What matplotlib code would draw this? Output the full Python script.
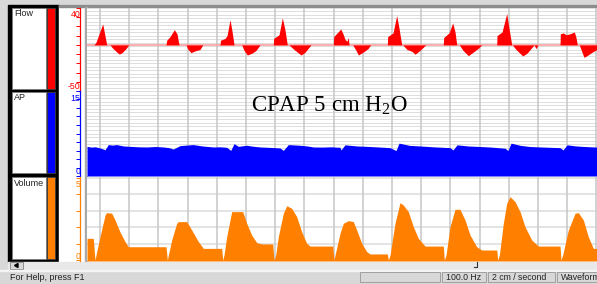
import numpy as np
import matplotlib.pyplot as plt
from matplotlib.patches import Rectangle, Polygon

plt.rcParams['font.family'] = ['Liberation Sans', 'DejaVu Sans']
plt.rcParams['mathtext.fontset'] = 'custom'
plt.rcParams['mathtext.rm'] = 'Liberation Serif'

# time in seconds, 100 Hz recording, 2 cm / second
flow_t = [-0.223, -0.103, -0.068, 0.046, 0.115, 0.171, 0.223, 0.291, 0.330, 0.377, 0.445, 0.491,
          1.130, 1.142, 1.199, 1.272, 1.318, 1.353, 1.473, 1.507, 1.558, 1.627, 1.712, 1.759,
          2.055, 2.063, 2.140, 2.175, 2.226, 2.260, 2.295, 2.426, 2.466, 2.522, 2.603, 2.671, 2.740,
          2.967, 2.974, 3.065, 3.122, 3.168, 3.207, 3.236, 3.322, 3.442, 3.510, 3.613,
          3.995, 4.002, 4.075, 4.122, 4.161, 4.195, 4.229, 4.252, 4.264, 4.327, 4.384, 4.423, 4.503, 4.589, 4.635,
          4.920, 4.926, 5.017, 5.080, 5.120, 5.166, 5.183, 5.257, 5.342, 5.394, 5.479, 5.577,
          5.878, 5.885, 5.976, 6.039, 6.079, 6.108, 6.152, 6.216, 6.307, 6.387, 6.473, 6.536,
          6.793, 6.798, 6.884, 6.964, 7.003, 7.050, 7.060, 7.123, 7.238, 7.312, 7.432, 7.466, 7.500,
          7.877, 7.882, 7.933, 7.979, 8.048, 8.122, 8.151, 8.173, 8.207, 8.253, 8.288, 8.356, 8.425, 8.510]
flow_v = [0, 0, 3, 22.7, 0, 0, -4, -8, -9.9, -8.5, -4, 0,
          0, 5, 9, 16.5, 12, 0, 0, -5, -8.4, -6.5, -5, 0,
          0, 5, 7, 10, 27.4, 15, 0, 0, -6, -11, -9, -6, 0,
          0, 7, 11, 29.3, 16, 0, 0, -5, -11, -8, 0,
          0, 9, 14, 17.2, 12, 6, 4, 8, 0, 0, -6, -11, -8, -4, 0,
          0, 9, 13, 31.8, 18, 0, 0, -5, -7, -10.2, -6, 0,
          0, 8, 13, 23.8, 14, 0, 0, -6, -11.7, -8, -4, 0,
          0, 10, 14, 34, 18, 0, 0, -5, -12, -9, 0, -4, 0,
          0, 12, 13, 11, 12, 14, 8, 0, 0, -8, -13.5, -11, -8, -5]

ap_t = [-0.223, -0.15, -0.08, 0.0, 0.086, 0.142, 0.21, 0.286, 0.40, 0.514, 0.65, 0.800, 0.95, 1.084,
        1.18, 1.255, 1.370, 1.48, 1.598, 1.75, 1.940, 2.05, 2.170, 2.238, 2.295, 2.368, 2.512, 2.62,
        2.740, 2.90, 3.082, 3.139, 3.224, 3.425, 3.55, 3.652, 3.80, 3.95, 4.110, 4.127, 4.195, 4.40,
        4.623, 4.80, 4.966, 5.068, 5.120, 5.30, 5.479, 5.70, 5.993, 6.045, 6.113, 6.30, 6.507, 6.70,
        6.935, 6.986, 7.038, 7.20, 7.363, 7.60, 7.877, 7.928, 7.997, 8.15, 8.305, 8.510]
ap_v = [5.23, 5.10, 5.15, 4.95, 4.64, 5.54, 5.45, 5.54, 5.30, 5.23, 5.15, 5.12, 5.20, 5.12,
        5.00, 4.76, 5.36, 5.45, 5.54, 5.30, 5.12, 5.15, 5.06, 4.52, 5.71, 5.23, 5.42, 5.25,
        5.12, 5.05, 4.95, 4.52, 5.54, 5.42, 5.30, 5.12, 5.10, 5.15, 5.06, 4.60, 5.50, 5.30,
        5.20, 5.10, 5.00, 4.50, 5.80, 5.40, 5.30, 5.15, 5.00, 4.60, 5.50, 5.30, 5.20, 5.10,
        4.90, 4.50, 5.80, 5.40, 5.20, 5.10, 5.00, 4.60, 5.50, 5.30, 5.20, 5.10]

vol_t = [-0.223, -0.115, -0.086,
         -0.057, 0.0, 0.086, 0.115, 0.200, 0.257, 0.342, 0.428, 0.485, 1.130, 1.153,
         1.170, 1.227, 1.313, 1.341, 1.484, 1.570, 1.684, 1.769, 2.083, 2.101,
         2.123, 2.169, 2.255, 2.443, 2.511, 2.597, 2.683, 2.769, 2.957, 2.979,
         3.008, 3.053, 3.139, 3.197, 3.282, 3.368, 3.454, 3.539, 3.596, 3.985, 4.007,
         4.024, 4.110, 4.166, 4.252, 4.338, 4.395, 4.481, 4.567, 4.623, 4.920, 4.937,
         4.966, 5.051, 5.137, 5.193, 5.279, 5.365, 5.451, 5.565, 5.878, 5.896,
         5.925, 5.993, 6.079, 6.164, 6.250, 6.336, 6.450, 6.536, 6.793, 6.810,
         6.838, 6.906, 6.964, 7.021, 7.106, 7.192, 7.277, 7.392, 7.505, 7.877, 7.894,
         7.922, 8.019, 8.134, 8.190, 8.276, 8.361, 8.447, 8.510]
vol_v = [1.32, 1.32, 0,
         0.51, 1.42, 2.74, 2.89, 2.85, 2.44, 1.71, 1.12, 0.81, 0.81, 0,
         0.30, 1.22, 2.24, 2.34, 2.34, 1.83, 1.12, 0.71, 0.71, 0,
         0.30, 1.42, 2.95, 2.95, 2.24, 1.52, 1.06, 0.98, 0.98, 0,
         0.30, 1.42, 2.85, 3.31, 3.15, 2.64, 1.71, 1.02, 0.85, 0.85, 0,
         0.30, 1.63, 2.24, 2.40, 2.34, 1.83, 1.02, 0.51, 0.37, 0.37, 0,
         0.30, 2.24, 3.50, 3.35, 2.95, 2.03, 1.32, 0.85, 0.85, 0,
         0.30, 2.03, 3.09, 3.09, 2.44, 1.52, 0.81, 0.61, 0.61, 0,
         0.30, 2.24, 3.46, 3.86, 3.56, 2.95, 2.03, 1.22, 0.85, 0.85, 0,
         0.30, 1.83, 2.85, 2.89, 2.44, 1.42, 0.71, 0.71]

W, H = 597, 284
fig = plt.figure(figsize=(W / 100, H / 100), dpi=100, facecolor='#d8d8d8')


def px_axes(x0, y0, x1, y1):
    return fig.add_axes([x0 / W, 1 - y1 / H, (x1 - x0) / W, (y1 - y0) / H])


# window chrome (drawn in pixel space)
bg = fig.add_axes([0, 0, 1, 1])
bg.set_xlim(0, W)
bg.set_ylim(H, 0)
bg.axis('off')
bg.add_patch(Rectangle((8, 5), 51, 257, color='black'))
bg.add_patch(Rectangle((59, 5), 538, 257, color='white'))
bg.add_patch(Rectangle((59, 5), 538, 2, color='#8c8c8c'))
bg.add_patch(Rectangle((85, 7), 2, 255, color='#a8a8a8'))
panels = [('Flow', 8, 89, '#ff0000'), ('AP', 92, 173, '#0000ff'), ('Volume', 177, 259, '#ff8000')]
for name, y0, y1, col in panels:
    bg.add_patch(Rectangle((12, y0), 34, y1 - y0, fc='white', ec='#7a7a7a', lw=0.6))
    bg.add_patch(Rectangle((47, y0), 8, y1 - y0, fc=col, ec='#404040', lw=0.6))
    bg.text(14, y0 + 1.5, name, fontsize=6.5, va='top', ha='left', color='#222222')
# scroll bar
bg.add_patch(Rectangle((8, 262), 589, 8, color='#e8e8e8'))
bg.add_patch(Rectangle((10, 262), 13, 7, fc='#d8d8d8', ec='#808080', lw=0.6))
bg.add_patch(Polygon([[14.5, 265.5], [18, 263.5], [18, 267.5]], color='black'))
bg.plot([477, 477, 474], [262, 266.5, 266.5], color='#333333', lw=0.8)
bg.add_patch(Rectangle((0, 270), W, 0.8, color='#f4f4f4'))
# status bar
bg.text(10, 277.5, 'For Help, press F1', fontsize=6.5, va='center', color='#222222')
boxes = [(360, 440, ''), (442, 486, '100.0 Hz'), (488, 555, '2 cm / second'), (557, 600, 'Waveform')]
for x0, x1, txt in boxes:
    bg.add_patch(Rectangle((x0, 272), x1 - x0, 10, fill=False, ec='#a0a0a0', lw=0.7))
    bg.text(x0 + 4, 277.5, txt, fontsize=6.3, va='center', color='#222222', clip_on=True)

vgrid = np.arange(0, 8.6, 0.5)


def setup(ax, col, ylim, ticks, top_lbl, bot_lbl, top_pos, hgrid, hcol, hlw):
    ax.set_facecolor('white')
    ax.set_xlim(-0.223, 8.51)
    ax.set_ylim(*ylim)
    for s in ['top', 'right', 'bottom']:
        ax.spines[s].set_visible(False)
    ax.spines['left'].set_position(('outward', 5))
    ax.spines['left'].set_color(col)
    ax.spines['left'].set_linewidth(0.9)
    ax.set_yticks(ticks)
    ax.tick_params(axis='y', direction='out', length=3, width=0.7, color=col, labelleft=False)
    ax.tick_params(axis='x', length=0, labelbottom=False)
    for yv in hgrid:
        ax.axhline(yv, color=hcol, lw=hlw, zorder=0)
    for xv in vgrid:
        ax.axvline(xv, color='#c6c6c6', lw=1.1, zorder=0.5)
    tr = ax.get_yaxis_transform()
    ax.text(-0.013, top_pos, top_lbl, transform=tr, ha='right', va='top', color=col, fontsize=6.3, clip_on=False)
    ax.text(-0.013, ylim[0], bot_lbl, transform=tr, ha='right', va='bottom', color=col, fontsize=6.3, clip_on=False)


ax_flow = px_axes(87, 8, 597, 91)
setup(ax_flow, '#ff0000', (-50, 40), np.arange(-50, 41, 10), '40', '-50', 38,
      np.linspace(-50, 40, 25), '#d8d8d8', 0.6)
ax_flow.axhline(0, color='#ffa0a0', lw=1.2, zorder=1)
ax_flow.fill_between(flow_t, flow_v, 0, color='#ff0000', lw=0, zorder=3)

ax_ap = px_axes(87, 91, 597, 176)
setup(ax_ap, '#0000ff', (0, 15), np.arange(0, 15.1, 1.5), '15', '0', 14.4,
      np.linspace(0, 15, 25), '#d8d8d8', 0.6)
ax_ap.fill_between(ap_t, ap_v, 0, color='#0000ff', lw=0, zorder=3)
ax_ap.text(0.476, 0.765, r'CPAP 5 cm H$_2$O', transform=ax_ap.transAxes, ha='center',
           va='baseline', fontsize=16.5, family='Liberation Serif', color='black', zorder=4)

ax_vol = px_axes(87, 177, 597, 261)
setup(ax_vol, '#ff8000', (-0.06, 5.06), np.arange(0, 6, 1), '5', '0', 4.88,
      np.arange(1, 6, 1), '#dcdcdc', 1.1)
ax_vol.fill_between(vol_t, vol_v, -0.06, color='#ff8000', lw=0, zorder=3)

fig.savefig('out.png', dpi=100, facecolor=fig.get_facecolor())
